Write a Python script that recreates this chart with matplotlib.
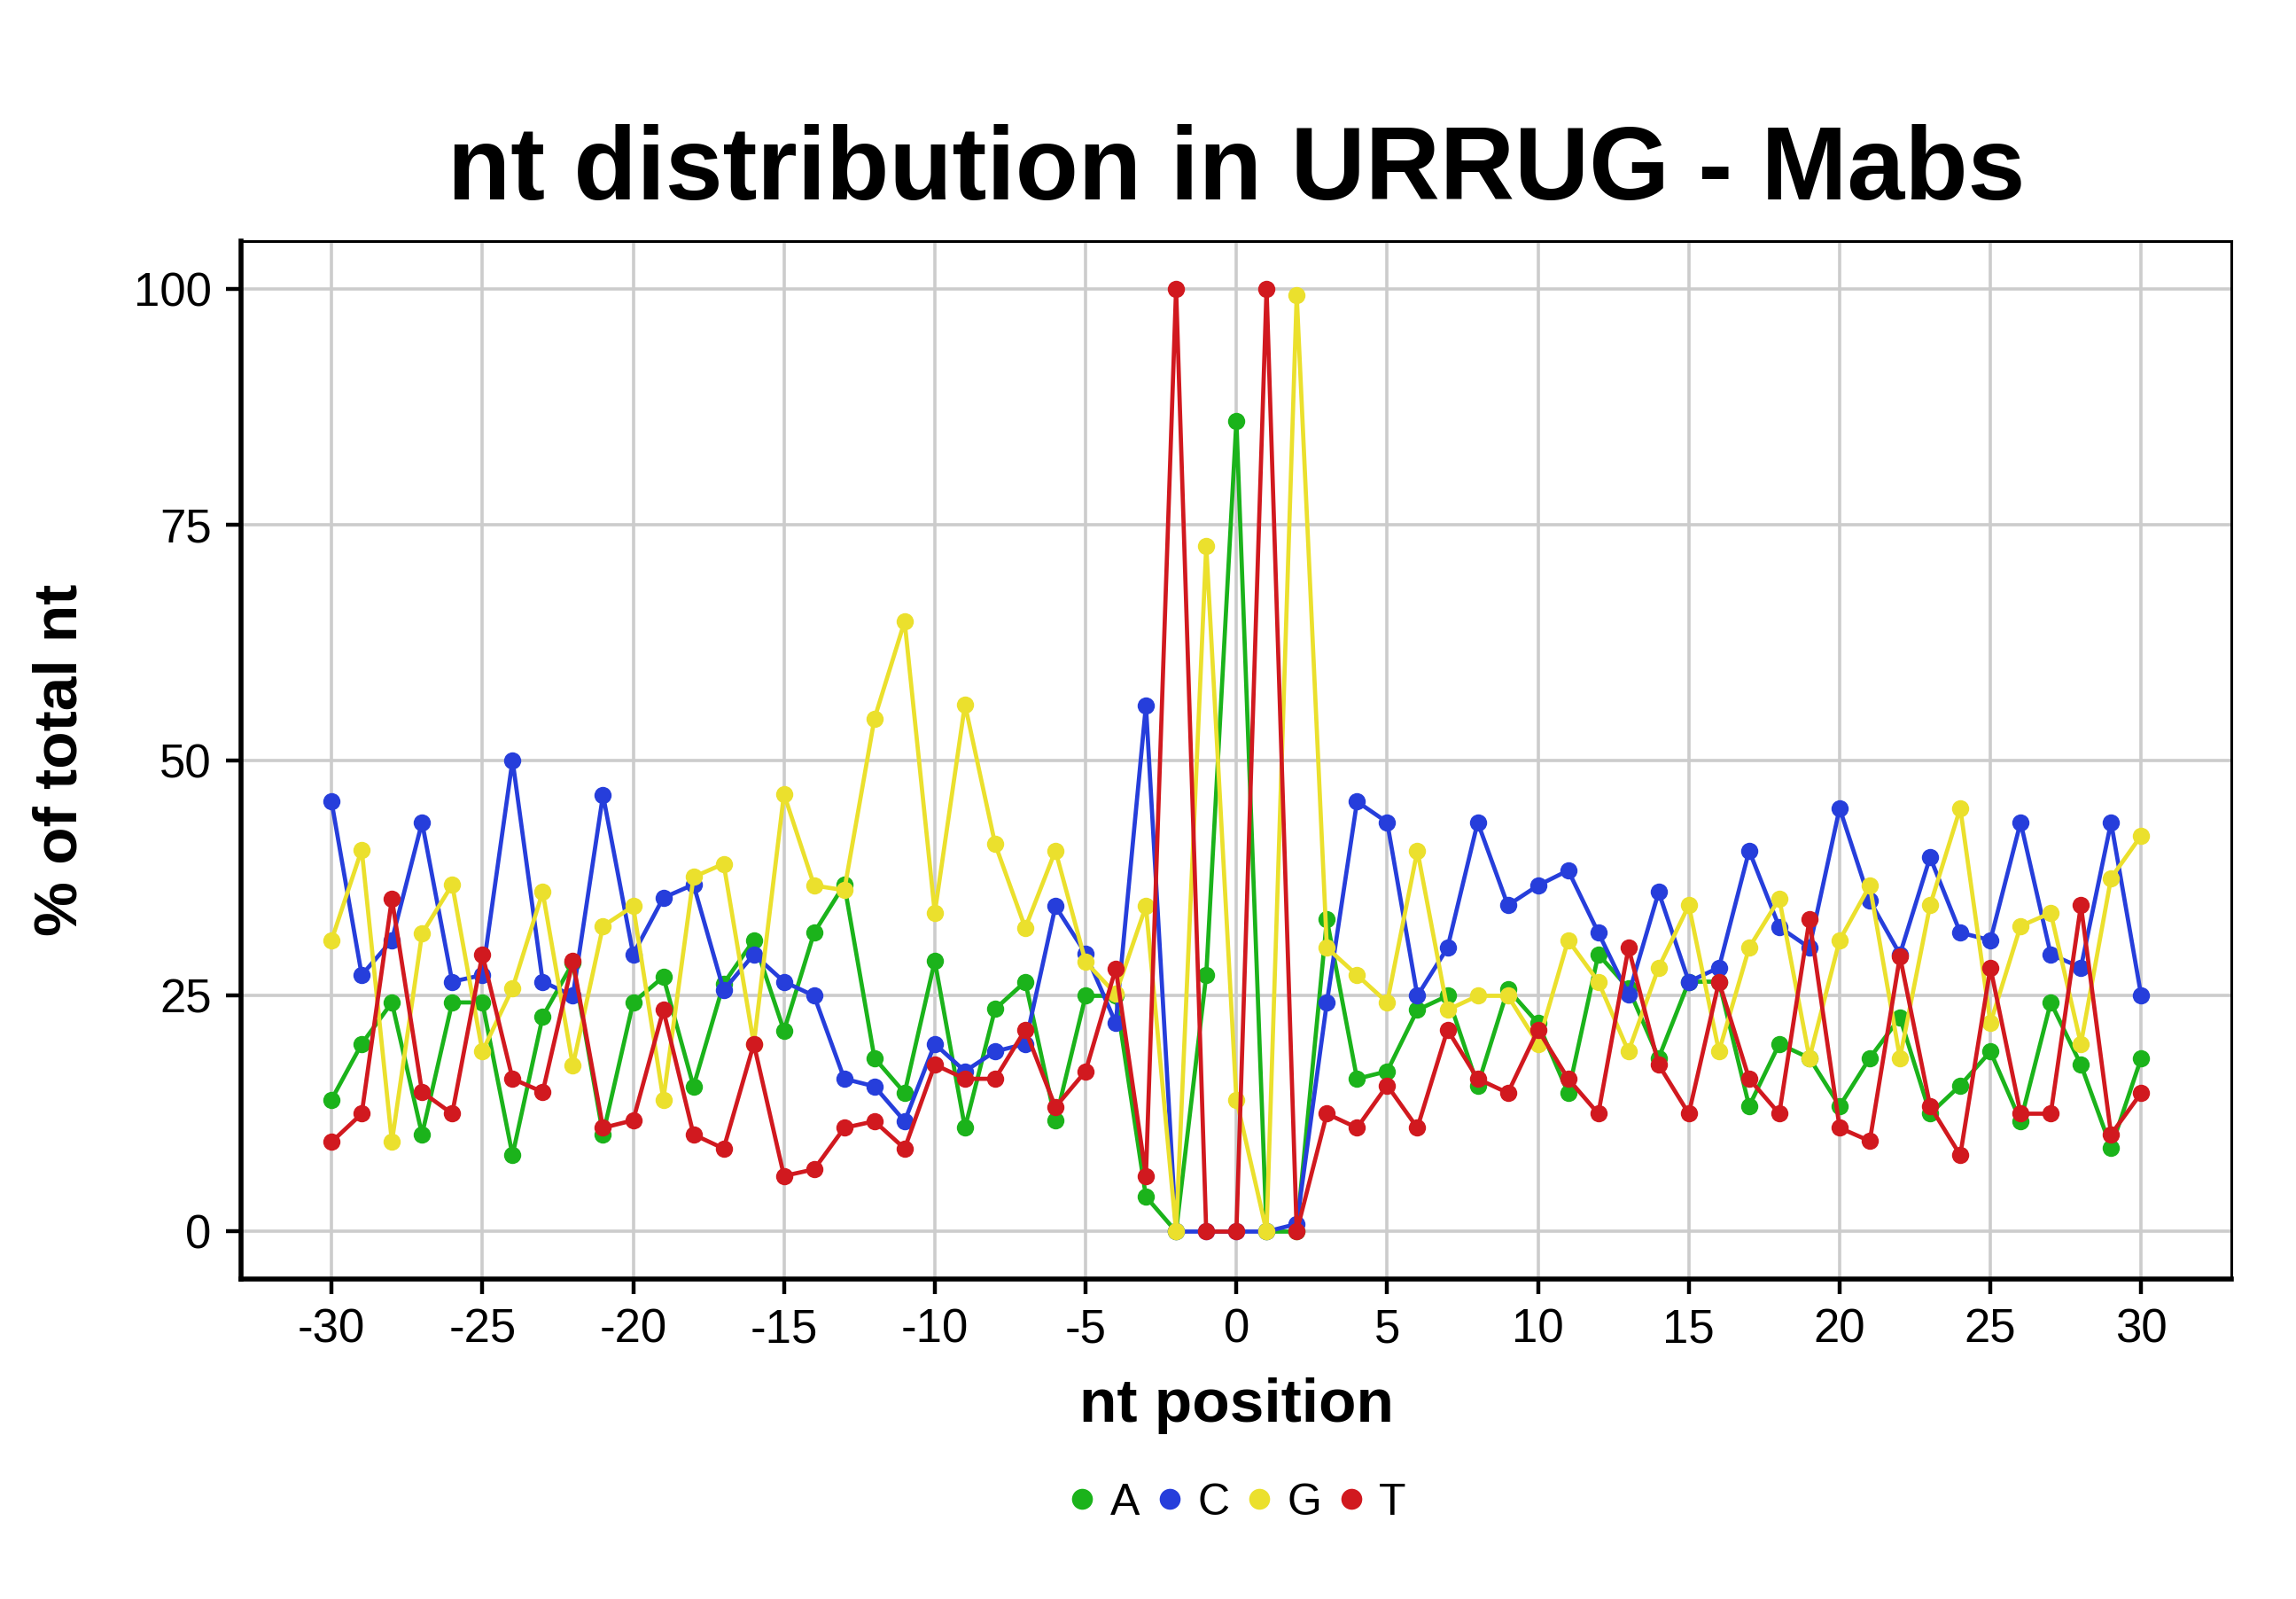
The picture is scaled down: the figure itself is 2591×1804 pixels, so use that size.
import matplotlib
matplotlib.use("Agg")
import matplotlib.pyplot as plt
from matplotlib.lines import Line2D

plt.rcParams['font.family'] = ['Liberation Sans', 'DejaVu Sans']

positions = list(range(-30, 31))

nt_labels = ["A", "C", "G", "T"]
nt_colors = ["#1BB31B", "#263EDB", "#EBE02D", "#D1191F"]

pct_A = [14.0, 19.9, 24.3, 10.3, 24.3, 24.3, 8.1, 22.8, 28.5, 10.3,
         24.3, 27.0, 15.4, 26.3, 30.9, 21.3, 31.7, 36.8, 18.4, 14.7,
         28.7, 11.0, 23.6, 26.5, 11.8, 25.0, 25.0, 3.7, 0.0, 27.2,
         86.0,
         0.0, 0.0, 33.1, 16.2, 17.0, 23.5, 25.0, 15.5, 25.7, 22.1,
         14.7, 29.4, 25.8, 18.4, 26.5, 26.5, 13.3, 19.9, 18.4, 13.3,
         18.4, 22.7, 12.5, 15.5, 19.1, 11.7, 24.3, 17.7, 8.9, 18.4]

pct_C = [45.6, 27.2, 30.9, 43.4, 26.5, 27.2, 50.0, 26.5, 25.0, 46.3,
         29.4, 35.4, 36.8, 25.6, 29.4, 26.5, 25.0, 16.2, 15.4, 11.7,
         19.9, 17.0, 19.1, 19.9, 34.5, 29.5, 22.1, 55.8, 0.0, 0.0,
         0.0,
         0.0, 0.8, 24.3, 45.6, 43.4, 25.0, 30.1, 43.4, 34.6, 36.7,
         38.3, 31.7, 25.1, 36.0, 26.5, 28.0, 40.4, 32.3, 30.1, 44.9,
         35.1, 29.4, 39.7, 31.7, 30.9, 43.4, 29.4, 28.0, 43.4, 25.0]

pct_G = [30.9, 40.5, 9.5, 31.6, 36.8, 19.1, 25.8, 36.0, 17.6, 32.4,
         34.5, 14.0, 37.6, 39.0, 19.9, 46.4, 36.7, 36.2, 54.4, 64.7,
         33.8, 55.9, 41.1, 32.2, 40.4, 28.6, 25.2, 34.5, 0.0, 72.7,
         14.0,
         0.0, 99.3, 30.1, 27.2, 24.3, 40.4, 23.5, 25.0, 25.0, 19.9,
         30.9, 26.5, 19.1, 28.0, 34.6, 19.1, 30.1, 35.3, 18.4, 30.9,
         36.7, 18.4, 34.6, 44.9, 22.1, 32.4, 33.8, 19.9, 37.5, 42.0]

pct_T = [9.5, 12.5, 35.3, 14.8, 12.5, 29.4, 16.2, 14.8, 28.7, 11.0,
         11.8, 23.5, 10.3, 8.8, 19.9, 5.9, 6.6, 11.0, 11.7, 8.8,
         17.7, 16.2, 16.2, 21.4, 13.2, 17.0, 27.9, 5.9, 100.0, 0.0,
         0.0,
         100.0, 0.0, 12.5, 11.0, 15.5, 11.0, 21.4, 16.2, 14.7, 21.4,
         16.2, 12.5, 30.1, 17.7, 12.5, 26.5, 16.2, 12.5, 33.1, 11.0,
         9.6, 29.2, 13.3, 8.1, 28.0, 12.5, 12.5, 34.6, 10.3, 14.7]

x_ticks = list(range(-30, 31, 5))
y_ticks = [0, 25, 50, 75, 100]

title = "nt distribution in URRUG - Mabs"
x_label = "nt position"
y_label = "% of total nt"

fig = plt.figure(figsize=(12.955, 9.02), dpi=200)
ax = fig.add_axes([0.105, 0.2003, 0.867, 0.6487])

series = [pct_A, pct_C, pct_G, pct_T]
for vals, col, lab in zip(series, nt_colors, nt_labels):
    ax.plot(positions, vals, color=col, lw=1.7, marker='o', ms=7.0,
            markeredgewidth=0, label=lab, zorder=3)

ax.set_xlim(-33, 33)
ax.set_ylim(-5, 105)
ax.set_xticks(x_ticks)
ax.set_xticklabels([str(t) for t in x_ticks])
ax.set_yticks(y_ticks)
ax.set_yticklabels([str(t) for t in y_ticks])
ax.grid(True, color='#CCCCCC', lw=1.3, zorder=0)
ax.set_axisbelow(True)

for s in ['left', 'bottom']:
    ax.spines[s].set_linewidth(2.0)
for s in ['top', 'right']:
    ax.spines[s].set_linewidth(1.1)
ax.tick_params(axis='both', direction='out', length=6, width=1.6,
               labelsize=19, colors='black', pad=6)

ax.set_xlabel(x_label, fontsize=25, fontweight='bold', labelpad=10)
ax.set_ylabel(y_label, fontsize=25, fontweight='bold', labelpad=18)
ax.set_title(title, fontsize=42, fontweight='bold', pad=17)

handles = [Line2D([], [], ls='none', marker='o', ms=8.5, color=c,
                  markeredgewidth=0) for c in nt_colors]
fig.legend(handles, nt_labels, loc='center', bbox_to_anchor=(0.537, 0.060),
           ncol=4, frameon=False, fontsize=18, handletextpad=0.13,
           columnspacing=0.17, handlelength=1.0)

fig.savefig("out.png", dpi=200)
